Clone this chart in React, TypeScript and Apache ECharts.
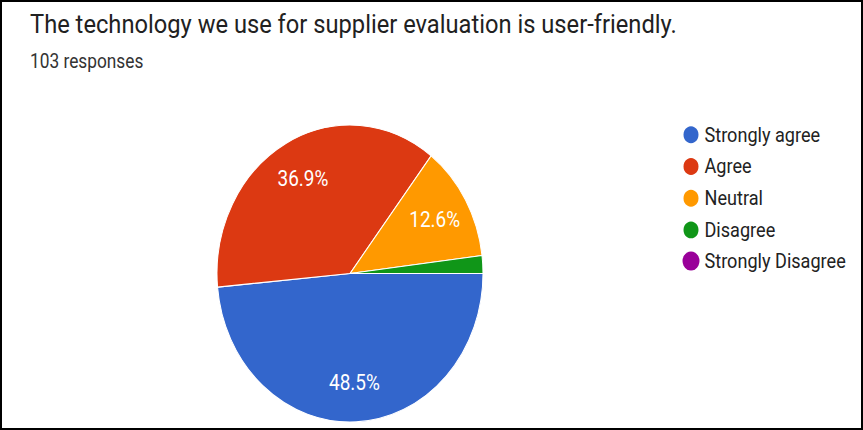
import React, { useEffect, useRef } from 'react';
import * as echarts from 'echarts';

const TITLE = 'The technology we use for supplier evaluation is user-friendly.';
const SUBTITLE = '103 responses';
const categories = ['Strongly agree', 'Agree', 'Neutral', 'Disagree', 'Strongly Disagree'];
const counts = [50, 38, 13, 2, 0];
const colors = ['#3366cc', '#dc3912', '#ff9900', '#109618', '#990099'];

const W = 863;
const H = 430;
const SY = 1.1165;
const IH = Math.round(H / SY);
const FONT = 'Roboto, Arial, sans-serif';

export default function App() {
  const ref = useRef<HTMLDivElement>(null);
  useEffect(() => {
    if (!ref.current) return;
    const chart = echarts.init(ref.current, undefined, { renderer: 'svg', width: W, height: IH });
    const total = counts.reduce((a, b) => a + b, 0);
    const data = categories.map((name, i) => ({
      name,
      value: counts[i],
      itemStyle: { color: colors[i], borderWidth: counts[i] === 0 ? 0 : 1 },
    }));
    chart.setOption({
      animation: false,
      backgroundColor: '#ffffff',
      color: colors,
      graphic: [
        {
          type: 'text',
          left: 30,
          top: 9.3,
          style: { text: TITLE, font: `23.7px ${FONT}`, fill: '#212121' },
        },
        {
          type: 'text',
          left: 30,
          top: 46,
          style: { text: SUBTITLE, font: `17.3px ${FONT}`, fill: '#333333' },
        },
      ],
      legend: {
        orient: 'vertical',
        left: 676.5,
        top: 106.2,
        icon: 'circle',
        itemWidth: 17,
        itemHeight: 17,
        itemGap: 9.4,
        selectedMode: false,
        data: categories,
        textStyle: { fontFamily: FONT, fontSize: 18.1, color: '#222222' },
      },
      series: [
        {
          type: 'pie',
          center: [350, 245],
          radius: [0, 133],
          startAngle: 0,
          clockwise: true,
          silent: true,
          itemStyle: { borderColor: '#ffffff', borderWidth: 1 },
          label: { show: false },
          labelLine: { show: false },
          emphasis: { disabled: true },
          data,
        },
        {
          type: 'pie',
          center: [350, 245],
          radius: [56, 133],
          startAngle: 0,
          clockwise: true,
          silent: true,
          legendHoverLink: false,
          itemStyle: { color: 'rgba(0,0,0,0)', borderWidth: 0 },
          labelLine: { show: false },
          emphasis: { disabled: true },
          label: {
            show: true,
            position: 'inside',
            color: '#ffffff',
            fontFamily: FONT,
            fontSize: 19,
            formatter: (p: any) => {
              const pct = (p.value / total) * 100;
              return pct >= 5 ? `${pct.toFixed(1)}%` : '';
            },
          },
          data: categories.map((name, i) => ({ name: name + ' ', value: counts[i] })),
        },
      ],
    });
    return () => chart.dispose();
  }, []);

  return (
    <div style={{ position: 'absolute', left: 0, top: 0, width: W, height: H, overflow: 'hidden', background: '#fff' }}>
      <div
        ref={ref}
        style={{ width: W, height: IH, transform: `scaleY(${SY})`, transformOrigin: '0 0' }}
      />
      <div
        style={{
          position: 'absolute',
          left: 0,
          top: 0,
          width: W,
          height: H,
          boxSizing: 'border-box',
          border: '2px solid #000',
          pointerEvents: 'none',
        }}
      />
    </div>
  );
}
